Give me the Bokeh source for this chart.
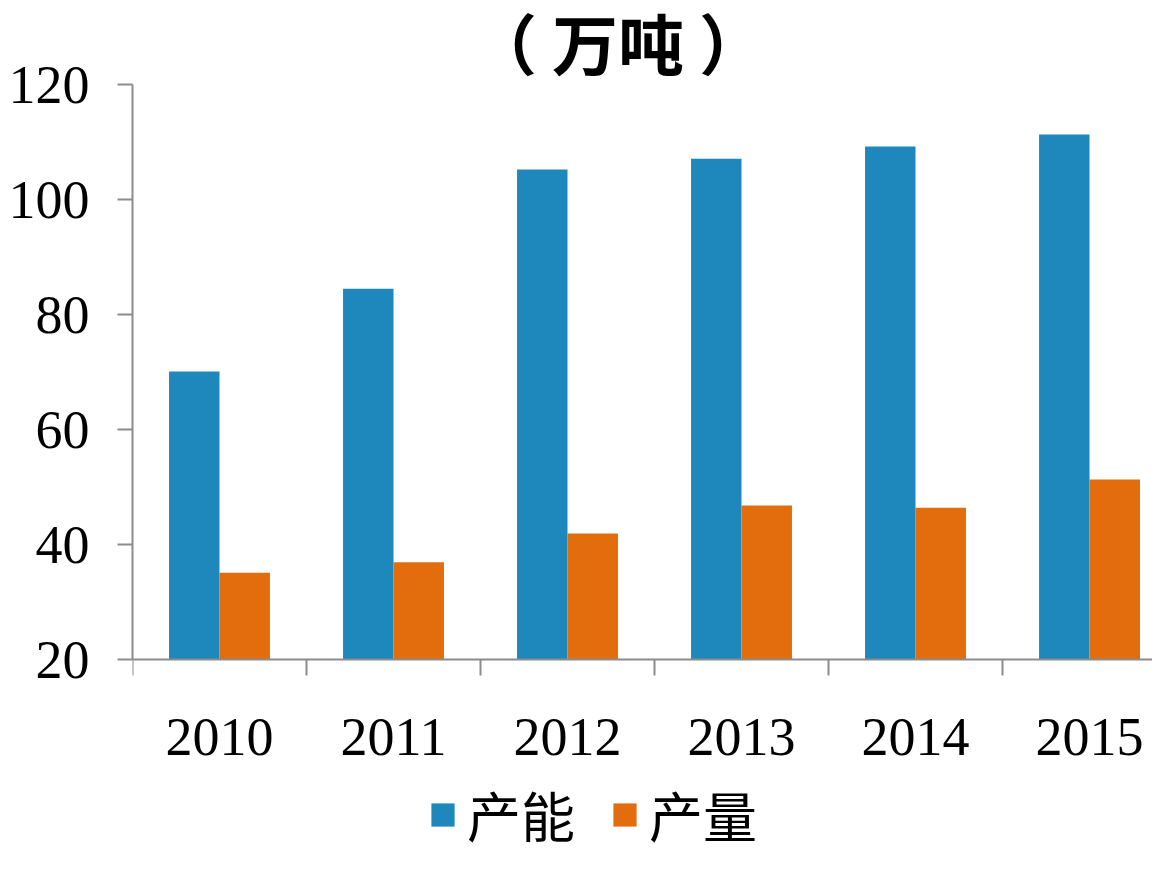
import numpy as np
from bokeh.plotting import figure
from bokeh.models import Range1d, FixedTicker, Legend, LegendItem, ColumnDataSource, LinearAxis
from bokeh.core.properties import value
from bokeh.transform import dodge
from bokeh.embed import file_html
from bokeh.resources import INLINE

years = ["2010", "2011", "2012", "2013", "2014", "2015"]
capacity = [70.1, 84.5, 105.2, 107.1, 109.2, 111.3]   # 产能
output = [35.1, 36.9, 41.9, 46.8, 46.4, 51.3]          # 产量
y_ticks = [20, 40, 60, 80, 100, 120]
title_text = "（ 万吨 ）"

BLUE = "#1E88BC"
ORANGE = "#E36C0C"
GRAY = "#8C8C8C"

idx = np.arange(len(years)) + 0.5
src = ColumnDataSource(dict(x=idx, cap=capacity, out=output))

p = figure(frame_width=1020, frame_height=856, output_backend="svg", toolbar_location=None,
           x_range=Range1d(0, 5.862), y_range=Range1d(-14.26, 134.61),
           x_axis_location=None,
           min_border_left=132, min_border_right=0, min_border_top=0, min_border_bottom=0)
p.outline_line_color = None
p.xgrid.visible = False
p.ygrid.visible = False
p.background_fill_color = None

r1 = p.vbar(x=dodge("x", -0.145), top="cap", bottom=20, width=0.29, source=src,
            fill_color=BLUE, line_color=None)
r2 = p.vbar(x=dodge("x", 0.145), top="out", bottom=20, width=0.29, source=src,
            fill_color=ORANGE, line_color=None)

# title drawn inside the (extended) frame
p.text(x=[2.79], y=[127.6], text=[title_text], text_font=value("Noto Sans CJK SC"),
       text_font_style="bold", text_font_size="66px", text_align="center",
       text_baseline="middle", text_color="black", text_line_height=1.0)

# y axis
ya = p.yaxis[0]
ya.bounds = (20, 120)
ya.ticker = FixedTicker(ticks=y_ticks)
ya.axis_line_color = GRAY
ya.axis_line_width = 2
ya.major_tick_line_color = GRAY
ya.major_tick_line_width = 2
ya.major_tick_out = 15
ya.major_tick_in = 0
ya.minor_tick_line_color = None
ya.major_label_standoff = 28
ya.major_label_text_font = "Liberation Serif"
ya.major_label_text_font_size = "54px"
ya.major_label_text_color = "black"

# x axis, fixed at y = 20
xa = LinearAxis(fixed_location=20)
xa.ticker = FixedTicker(ticks=list(idx), minor_ticks=list(range(len(years) + 1)))
xa.major_label_overrides = {float(v): y for v, y in zip(idx, years)}
xa.axis_line_color = GRAY
xa.axis_line_width = 2
xa.major_tick_line_color = None
xa.major_tick_out = 0
xa.major_tick_in = 0
xa.minor_tick_line_color = GRAY
xa.minor_tick_line_width = 2
xa.minor_tick_out = 16
xa.minor_tick_in = 0
xa.major_label_standoff = 43
xa.major_label_text_font = "Liberation Serif"
xa.major_label_text_font_size = "54px"
xa.major_label_text_color = "black"
p.add_layout(xa, "below")

legend = Legend(items=[LegendItem(label="产能", renderers=[r1]),
                       LegendItem(label="产量", renderers=[r2])],
                orientation="horizontal", location=(296, 2),
                label_text_font="Noto Sans CJK SC", label_text_font_size="54px",
                label_text_color="black",
                glyph_width=29, glyph_height=29, label_standoff=10, spacing=35,
                background_fill_alpha=0, border_line_color=None, padding=0, margin=0)
p.add_layout(legend, "center")

open("out.html", "w").write(file_html(p, INLINE))
